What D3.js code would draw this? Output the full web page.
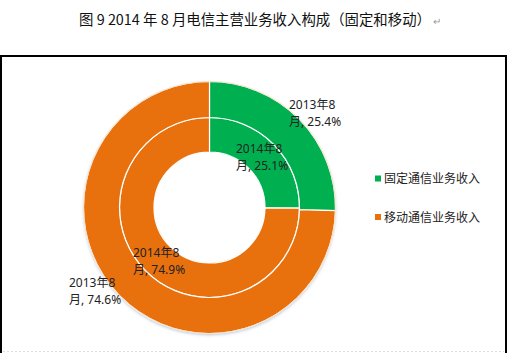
<!DOCTYPE html>
<html><head><meta charset="utf-8">
<script src="https://cdn.jsdelivr.net/npm/d3@7/dist/d3.min.js"></script>
<style>body{margin:0;background:#fff;}svg{display:block;font-family:"Noto Sans CJK SC","Noto Sans",sans-serif;}</style>
</head><body>
<svg id="c" width="509" height="353"></svg>
<script>
const title = "图 9 2014 年 8 月电信主营业务收入构成（固定和移动）";
const categories = ["固定通信业务收入", "移动通信业务收入"];
const colors = ["#00B050", "#E8710E"];
const series = ["2014年8月", "2013年8月"];
const values2014 = [25.1, 74.9];
const values2013 = [25.4, 74.6];

const svg = d3.select("#c");
// title
const t = svg.append("text").attr("x", 260).attr("y", 25).attr("text-anchor", "middle")
  .attr("font-size", 14.4).attr("fill", "#111")
  .attr("font-family", "'Noto Sans CJK SC', sans-serif");
t.append("tspan").text(title);
t.append("tspan").attr("fill", "#999").attr("font-size", 10).attr("dx", 2).text("↵");

// frame
svg.append("path").attr("d", "M1,353 L1,56 L506,56 L506,353").attr("fill", "none").attr("stroke", "#000").attr("stroke-width", 2);
svg.append("line").attr("x1", 3).attr("x2", 504).attr("y1", 351.5).attr("y2", 351.5)
  .attr("stroke", "#ddd").attr("stroke-dasharray", "2,2");

const cx = 209.5, cy = 207.5;
const g = svg.append("g").attr("transform", `translate(${cx},${cy})`);
const pie = d3.pie().sort(null).value(d => d);
const rings = [
  {vals: values2014, r0: 55.5, r1: 90, name: series[0]},
  {vals: values2013, r0: 90, r1: 126, name: series[1]}
];
// shadow
const defs = svg.append("defs");
const f = defs.append("filter").attr("id", "sh").attr("x", "-20%").attr("y", "-20%").attr("width", "140%").attr("height", "140%");
f.append("feDropShadow").attr("dx", 0).attr("dy", 1.5).attr("stdDeviation", 1.5).attr("flood-color", "#5a7aa8").attr("flood-opacity", 0.45);

g.append("circle").attr("r", 126).attr("fill", "#fff").attr("filter", "url(#sh)");
rings.forEach(ring => {
  const arc = d3.arc().innerRadius(ring.r0).outerRadius(ring.r1);
  g.selectAll(null).data(pie(ring.vals)).enter().append("path")
    .attr("d", arc).attr("fill", (d, i) => colors[i])
    .attr("stroke", "#fff").attr("stroke-width", 1.2);
});
g.append("circle").attr("r", 126).attr("fill", "none").attr("stroke", "#f6d9b8").attr("stroke-width", 0.8);

// labels
const labelPos = [
  {ring: 1, i: 0, x: 289, y: 104},
  {ring: 0, i: 0, x: 236, y: 148},
  {ring: 0, i: 1, x: 133, y: 252},
  {ring: 1, i: 1, x: 69, y: 282}
];
labelPos.forEach(p => {
  const ring = rings[p.ring];
  const v = ring.vals[p.i];
  const txt = svg.append("text").attr("font-size", 12).attr("fill", "#222")
    .attr("font-family", "'Noto Sans', 'Noto Sans CJK SC', sans-serif");
  txt.append("tspan").attr("x", p.x).attr("y", p.y + 4.5).text(ring.name.slice(0, 6));
  txt.append("tspan").attr("x", p.x).attr("y", p.y + 21.5).text(ring.name.slice(6) + ", " + v.toFixed(1) + "%");
});

// legend
const lg = svg.append("g");
categories.forEach((c, i) => {
  const y = 178.5 + i * 38.5;
  lg.append("rect").attr("x", 375).attr("y", y - 3).attr("width", 6).attr("height", 6).attr("fill", colors[i]);
  lg.append("text").attr("x", 384).attr("y", y + 4.5).attr("font-size", 12).attr("fill", "#222").text(c);
});
</script>
</body></html>
